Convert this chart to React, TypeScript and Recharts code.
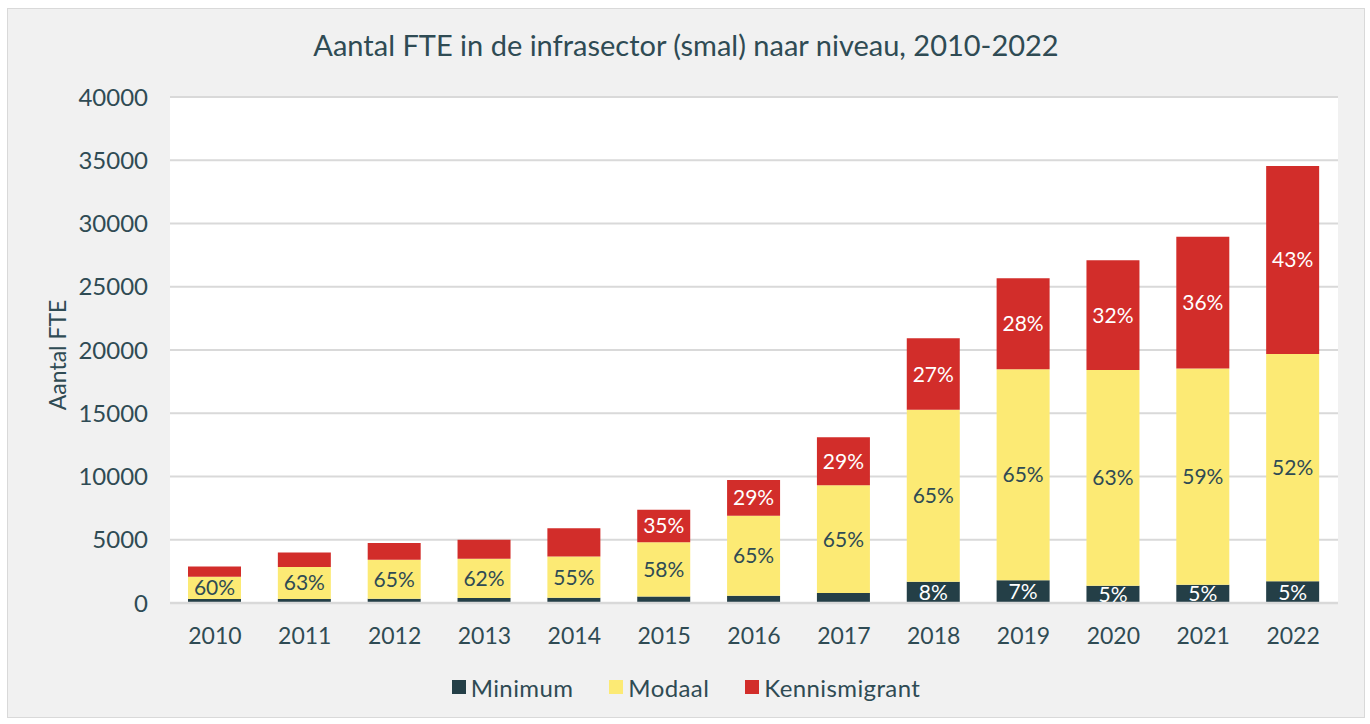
import React from 'react';
import { BarChart, Bar, XAxis, YAxis, CartesianGrid, Legend, LabelList } from 'recharts';

const years = ['2010', '2011', '2012', '2013', '2014', '2015', '2016', '2017', '2018', '2019', '2020', '2021', '2022'];
const minimum = [320, 320, 330, 390, 420, 516, 583, 785, 1674, 1797, 1354, 1448, 1727];
const modaal = [1755, 2525, 3083, 3102, 3248, 4278, 6320, 8514, 13600, 16684, 17067, 17086, 17963];
const kennis = [820, 1153, 1330, 1507, 2237, 2582, 2820, 3800, 5650, 7187, 8669, 10426, 14854];

const minLabels = ['', '', '', '', '', '', '', '', '8%', '7%', '5%', '5%', '5%'];
const modLabels = ['60%', '63%', '65%', '62%', '55%', '58%', '65%', '65%', '65%', '65%', '63%', '59%', '52%'];
const kenLabels = ['', '', '', '', '', '35%', '29%', '29%', '27%', '28%', '32%', '36%', '43%'];

const yTicks = [0, 5000, 10000, 15000, 20000, 25000, 30000, 35000, 40000];

const data = years.map((year, i) => ({
  year,
  minimum: minimum[i],
  modaal: modaal[i],
  kennis: kennis[i],
  minLabel: minLabels[i],
  modLabel: modLabels[i],
  kenLabel: kenLabels[i],
}));

const FONT = 'Lato, sans-serif';
const TEXT = '#2f4b54';

const series = [
  { key: 'minimum', name: 'Minimum', color: '#243f47' },
  { key: 'modaal', name: 'Modaal', color: '#fcea74' },
  { key: 'kennis', name: 'Kennismigrant', color: '#d22d2a' },
];

const LegendContent = () => (
  <div style={{ display: 'flex', justifyContent: 'center', alignItems: 'center', height: 24, fontFamily: FONT, fontSize: 24, color: TEXT }}>
    {series.map((s) => (
      <div key={s.key} style={{ display: 'flex', alignItems: 'center', margin: '0 18px' }}>
        <span style={{ width: 14, height: 14, background: s.color, display: 'inline-block', marginRight: 5 }} />
        <span style={{ letterSpacing: 0.4 }}>{s.name}</span>
      </div>
    ))}
  </div>
);

export default function App() {
  return (
    <div
      style={{
        position: 'absolute',
        left: 7,
        top: 8,
        width: 1356,
        height: 708,
        border: '1px solid #d9d9d9',
        background: '#f1f1f1',
        fontFamily: FONT,
      }}
    >
      <div style={{ position: 'absolute', top: 18, left: 0, width: 1356, textAlign: 'center', fontSize: 29, color: TEXT }}>
        Aantal FTE in de infrasector (smal) naar niveau, 2010-2022
      </div>
      <div
        style={{
          position: 'absolute',
          left: 49,
          top: 346,
          transform: 'translate(-50%, -50%) rotate(-90deg)',
          fontSize: 23,
          color: TEXT,
          whiteSpace: 'nowrap',
        }}
      >
        Aantal FTE
      </div>
      <BarChart
        width={1356}
        height={708}
        data={data}
        barSize={53}
        margin={{ top: 88, right: 26, left: 0, bottom: 0 }}
      >
        <CartesianGrid vertical={false} fill="#ffffff" stroke="#d9d9d9" strokeWidth={2} />
        <XAxis
          dataKey="year"
          height={90}
          tickLine={false}
          tickSize={0}
          tickMargin={25}
          axisLine={{ stroke: '#d9d9d9', strokeWidth: 2.5 }}
          tick={{ fill: TEXT, fontSize: 23, fontFamily: FONT }}
        />
        <YAxis
          width={162}
          domain={[0, 40000]}
          ticks={yTicks}
          axisLine={false}
          tickLine={false}
          tickSize={0}
          tickMargin={22}
          tick={{ fill: TEXT, fontSize: 24, fontFamily: FONT }}
        />
        <Legend
          content={<LegendContent />}
          wrapperStyle={{ top: 666, left: 0, width: 1356 }}
        />
        <Bar dataKey="minimum" name="Minimum" stackId="a" fill="#243f47" isAnimationActive={false}>
          <LabelList dataKey="minLabel" position="center" fill="#ffffff" fontSize={21} fontFamily={FONT} />
        </Bar>
        <Bar dataKey="modaal" name="Modaal" stackId="a" fill="#fcea74" isAnimationActive={false}>
          <LabelList dataKey="modLabel" position="center" fill={TEXT} fontSize={21} fontFamily={FONT} />
        </Bar>
        <Bar dataKey="kennis" name="Kennismigrant" stackId="a" fill="#d22d2a" isAnimationActive={false}>
          <LabelList dataKey="kenLabel" position="center" fill="#ffffff" fontSize={21} fontFamily={FONT} />
        </Bar>
      </BarChart>
    </div>
  );
}
